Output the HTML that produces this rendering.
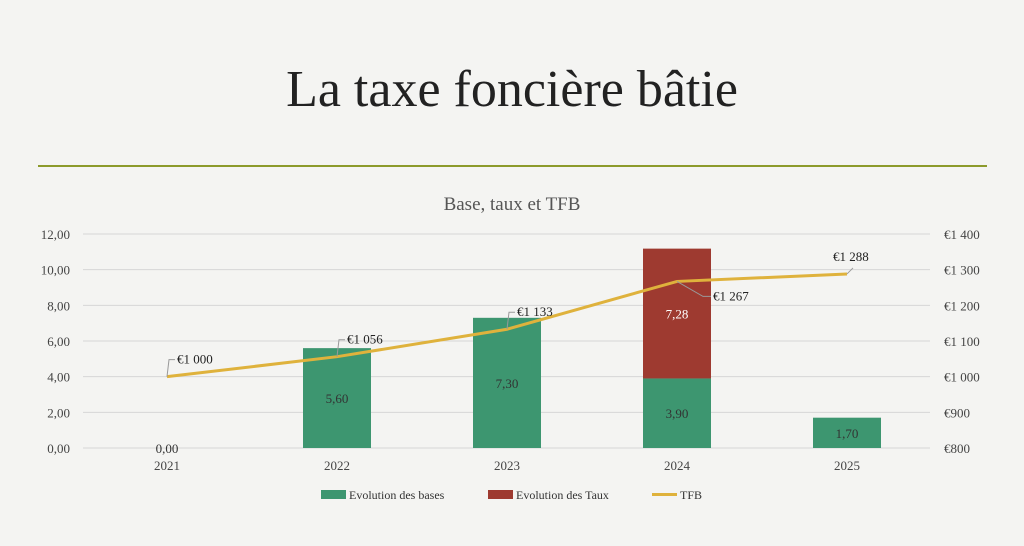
<!DOCTYPE html>
<html><head><meta charset="utf-8"><style>
body{margin:0;width:1024px;height:541px;background:#f4f4f2;overflow:hidden;font-family:"Liberation Serif",serif;}
</style></head><body>
<svg width="1024" height="541" xmlns="http://www.w3.org/2000/svg">
<text x="512" y="106" text-anchor="middle" font-size="52" fill="#222" font-family="Liberation Serif, serif">La taxe foncière bâtie</text>
<line x1="38" y1="166" x2="987" y2="166" stroke="#8c9a2c" stroke-width="2"/>
<text x="512" y="210" text-anchor="middle" font-size="19" fill="#555">Base, taux et TFB</text>
<g id="grid"></g><g id="bars"></g><g id="line"></g><g id="labels"></g><g id="axes"></g>
<g font-size="12" fill="#333">
<rect x="321" y="490" width="25" height="9" fill="#3d9670"/>
<text x="349" y="499">Evolution des bases</text>
<rect x="488" y="490" width="25" height="9" fill="#9e3a30"/>
<text x="516" y="499">Evolution des Taux</text>
<line x1="652" y1="494.5" x2="677" y2="494.5" stroke="#dfb23c" stroke-width="3"/>
<text x="680" y="499">TFB</text>
</g>
</svg>
<script>
const categories=["2021","2022","2023","2024","2025"];
const bases=[0,5.6,7.3,3.9,1.7];
const taux=[0,0,0,7.28,0];
const tfb=[1000,1056,1133,1267,1288];
const leftTicks=[0,2,4,6,8,10,12];
const rightTicks=[800,900,1000,1100,1200,1300,1400];
const NS="http://www.w3.org/2000/svg";
const y0=448,y1=234,x0=167,step=170,bw=68;
const yL=v=>y0-(v/12)*(y0-y1);
const yR=v=>y0-((v-800)/600)*(y0-y1);
const xC=i=>x0+i*step;
function mk(t,a,p){const e=document.createElementNS(NS,t);for(const k in a)e.setAttribute(k,a[k]);document.getElementById(p).appendChild(e);return e;}
leftTicks.forEach((v,i)=>{
 const l=mk('line',{x1:83,x2:930,y1:yL(v),y2:yL(v),stroke:'#d6d6d6','stroke-width':1},'grid');
 
 
 const t=mk('text',{x:70,y:yL(v)+5,'text-anchor':'end','font-size':13,fill:'#444'},'axes');t.textContent=v.toFixed(2).replace('.',',');
 
 
});
rightTicks.forEach(v=>{
 const t=mk('text',{x:944,y:yR(v)+5,'font-size':13,fill:'#444'},'axes');
 t.textContent='€'+(v>=1000?Math.floor(v/1000)+' '+String(v%1000).padStart(3,'0'):v);
 
 
});
categories.forEach((c,i)=>{
 const t=mk('text',{x:xC(i),y:470,'text-anchor':'middle','font-size':13,fill:'#444'},'axes');t.textContent=c;
 
 
 if(bases[i]>0){
  const r=mk('rect',{x:xC(i)-bw/2,y:yL(bases[i]),width:bw,height:y0-yL(bases[i]),fill:'#3d9670'},'bars');
  
  
 }
 const yb=(yL(bases[i])+y0)/2+5;
 const lb=mk('text',{x:xC(i),y:bases[i]>0?yb:453,'text-anchor':'middle','font-size':13,fill:'#333'},'labels');lb.textContent=bases[i].toFixed(2).replace('.',',');
 
 
 if(taux[i]>0){
  const top=yL(bases[i]+taux[i]);
  const r=mk('rect',{x:xC(i)-bw/2,y:top,width:bw,height:yL(bases[i])-top,fill:'#9e3a30'},'bars');
  
  
  const t2=mk('text',{x:xC(i),y:(top+yL(bases[i]))/2+5,'text-anchor':'middle','font-size':13,fill:'#fff'},'labels');t2.textContent=taux[i].toFixed(2).replace('.',',');
  
  
 }
});
const pl=mk('polyline',{points:tfb.map((v,i)=>xC(i)+','+yR(v)).join(' '),fill:'none',stroke:'#dfb23c','stroke-width':3},'line');


tfb.forEach((v,i)=>{
 const below=i===3;
 const lx=below?xC(i)+36:(i===4?xC(i)-14:xC(i)+10), ly=below?yR(v)+19:yR(v)-13;
 const t=mk('text',{x:lx,y:ly,'font-size':13,fill:'#222'},'labels');
 t.textContent='€'+Math.floor(v/1000)+' '+String(v%1000).padStart(3,'0');
 
 
 let d;
 if(below) d=`M${xC(i)} ${yR(v)} L${lx-10} ${ly-4} L${lx-2} ${ly-4}`;
 else if(i===4) d=`M${xC(i)} ${yR(v)} L${xC(i)+6} ${yR(v)-6}`;
 else d=`M${xC(i)} ${yR(v)} L${lx-8} ${ly-4} L${lx-2} ${ly-4}`;
 const ln=mk('path',{d:d,fill:'none',stroke:'#999','stroke-width':1},'labels');
 
 
});
</script>
</body></html>
